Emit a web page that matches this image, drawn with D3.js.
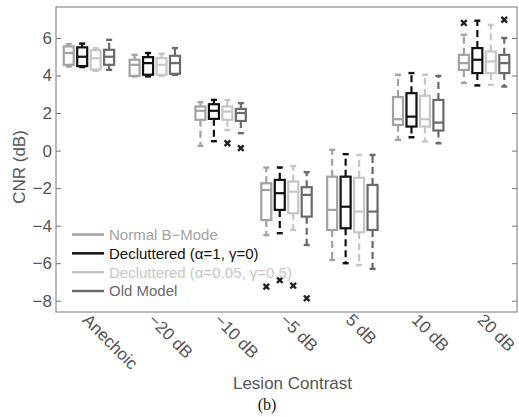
<!DOCTYPE html>
<html>
<head>
<meta charset="utf-8">
<script src="https://cdn.jsdelivr.net/npm/d3@7/dist/d3.min.js"></script>
<style>
  html, body { margin: 0; padding: 0; background: #fff; }
  svg { display: block; }
</style>
</head>
<body>
<svg id="chart" width="519" height="417"></svg>
<script>
// Lesion contrast categories along the x axis
const categories = ["Anechoic", "\u221220 dB", "\u221210 dB", "\u22125 dB", "5 dB", "10 dB", "20 dB"];
const yTicks = [-8, -6, -4, -2, 0, 2, 4, 6];

// Method names shown in the legend
const seriesNames = ["Normal B\u2212Mode", "Decluttered (\u03b1=1, \u03b3=0)", "Decluttered (\u03b1=0.05, \u03b3=0.5)", "Old Model"];

// Box statistics per category: [lower whisker, Q1, median, Q3, upper whisker] in dB
const normalBMode = [
  [4.48, 4.57, 5.20, 5.55, 5.67],
  [3.95, 3.98, 4.57, 4.84, 5.10],
  [0.25, 1.64, 2.12, 2.35, 2.58],
  [-4.50, -3.70, -2.10, -1.74, -0.90],
  [-5.83, -4.23, -3.16, -1.39, 0.04],
  [0.57, 1.37, 1.67, 2.85, 4.04],
  [3.60, 4.30, 4.66, 5.10, 6.17]
];
const declutteredA1 = [
  [4.45, 4.50, 5.00, 5.50, 5.70],
  [3.95, 4.04, 4.66, 4.98, 5.20],
  [0.50, 1.69, 2.12, 2.47, 2.70],
  [-4.40, -3.16, -2.27, -1.56, -0.90],
  [-6.00, -4.14, -2.99, -1.39, -0.19],
  [0.71, 1.28, 1.81, 3.06, 4.13],
  [3.47, 4.13, 4.84, 5.46, 6.92]
];
const declutteredA005 = [
  [4.25, 4.32, 4.92, 5.35, 5.45],
  [3.98, 4.04, 4.57, 4.93, 5.16],
  [1.10, 1.64, 2.08, 2.35, 2.70],
  [-4.23, -3.34, -2.19, -1.65, -0.82],
  [-6.10, -4.35, -3.25, -1.45, -0.23],
  [0.48, 1.28, 1.67, 2.92, 4.04],
  [3.50, 4.13, 4.75, 5.28, 6.70]
];
const oldModel = [
  [4.30, 4.57, 5.00, 5.37, 5.90],
  [4.04, 4.09, 4.66, 5.05, 5.46],
  [0.93, 1.58, 2.00, 2.22, 2.53],
  [-5.03, -3.52, -2.36, -1.95, -1.15],
  [-6.30, -4.23, -3.25, -1.83, -0.23],
  [0.39, 1.07, 1.49, 2.70, 3.98],
  [3.41, 4.13, 4.66, 5.10, 6.00]
];

// Outliers: [category index, value]
const normalBModeOutliers = [[3, -7.25], [6, 6.80]];
const declutteredA1Outliers = [[3, -6.90]];
const declutteredA005Outliers = [[2, 0.39], [3, -7.20]];
const oldModelOutliers = [[2, 0.13], [3, -7.87], [6, 6.97]];

const seriesStats = [normalBMode, declutteredA1, declutteredA005, oldModel];
const seriesOutliers = [normalBModeOutliers, declutteredA1Outliers, declutteredA005Outliers, oldModelOutliers];
const seriesColors = ["#a2a2a2", "#111111", "#c6c6c6", "#6a6a6a"];

const svg = d3.select("#chart");
const plotLeft = 56, plotRight = 517, plotTop = 7, plotBottom = 312;

const x = d3.scaleLinear().domain([0.5, categories.length + 0.5]).range([plotLeft, plotRight]);
const y = d3.scaleLinear().domain([-8.6, 7.65]).range([plotBottom, plotTop]);
const seriesOffset = d3.scaleLinear().domain([0, 3]).range([-20.2, 20.2]);

const font = "'Liberation Sans', Arial, Helvetica, sans-serif";

// Y axis (left) with inward ticks
const yAxis = d3.axisLeft(y).tickValues(yTicks).tickSize(-5).tickPadding(4)
  .tickFormat(d3.format("d"));
const gy = svg.append("g").attr("transform", `translate(${plotLeft},0)`).call(yAxis);
gy.select(".domain").remove();
gy.selectAll(".tick line").attr("stroke", "#777");
gy.selectAll(".tick text").attr("fill", "#555").style("font-family", font).style("font-size", "17px");

// Y axis (right) ticks only
const gyr = svg.append("g").attr("transform", `translate(${plotRight},0)`)
  .call(d3.axisRight(y).tickValues(yTicks).tickSize(-5).tickFormat(""));
gyr.select(".domain").remove();
gyr.selectAll(".tick line").attr("stroke", "#777");

// X axis labels, rotated
const gx = svg.append("g").attr("transform", `translate(0,${plotBottom})`)
  .call(d3.axisBottom(x).tickValues(d3.range(1, categories.length + 1))
    .tickSize(0).tickFormat((d) => categories[d - 1]));
gx.select(".domain").remove();
gx.selectAll(".tick text")
  .attr("fill", "#555")
  .style("font-family", font).style("font-size", "17px")
  .attr("text-anchor", "start")
  .attr("dy", null).attr("y", 0)
  .attr("transform", "translate(-8,9) rotate(45)");

// Frame
svg.append("rect").attr("x", plotLeft).attr("y", plotTop)
  .attr("width", plotRight - plotLeft).attr("height", plotBottom - plotTop)
  .attr("fill", "none").attr("stroke", "#777").attr("stroke-width", 1);

// Boxes
const boxW = 10, capW = 6;
seriesStats.forEach((stats, si) => {
  const color = seriesColors[si];
  const g = svg.append("g");
  stats.forEach((s, ci) => {
    const cx = x(ci + 1) + seriesOffset(si);
    const [lo, q1, med, q3, hi] = s;
    // dashed whiskers
    g.append("line").attr("x1", cx).attr("x2", cx).attr("y1", y(q3)).attr("y2", y(hi))
      .attr("stroke", color).attr("stroke-width", 2.2).attr("stroke-dasharray", "7,4");
    g.append("line").attr("x1", cx).attr("x2", cx).attr("y1", y(q1)).attr("y2", y(lo))
      .attr("stroke", color).attr("stroke-width", 2.2).attr("stroke-dasharray", "7,4");
    // caps
    [lo, hi].forEach((v) => {
      g.append("line").attr("x1", cx - capW / 2).attr("x2", cx + capW / 2)
        .attr("y1", y(v)).attr("y2", y(v))
        .attr("stroke", color).attr("stroke-width", 2.4);
    });
    // box
    g.append("rect").attr("x", cx - boxW / 2).attr("y", y(q3))
      .attr("width", boxW).attr("height", y(q1) - y(q3))
      .attr("fill", "none").attr("stroke", color).attr("stroke-width", 2.2);
    // median
    g.append("line").attr("x1", cx - boxW / 2).attr("x2", cx + boxW / 2)
      .attr("y1", y(med)).attr("y2", y(med))
      .attr("stroke", color).attr("stroke-width", 2.2);
  });
});

// Outliers as crosses
seriesOutliers.forEach((outs, si) => {
  outs.forEach(([ci, v]) => {
    const cx = x(ci + 1) + seriesOffset(si), cy = y(v), r = 2.8;
    svg.append("path")
      .attr("d", `M${cx - r},${cy - r}L${cx + r},${cy + r}M${cx - r},${cy + r}L${cx + r},${cy - r}`)
      .attr("stroke", "#222").attr("stroke-width", 2.4).attr("fill", "none");
  });
});

// Legend
const legend = svg.append("g");
const legendY = d3.scaleLinear().domain([0, 3]).range([234.5, 291]);
seriesNames.forEach((name, i) => {
  const ly = legendY(i);
  legend.append("line").attr("x1", 72).attr("x2", 104).attr("y1", ly).attr("y2", ly)
    .attr("stroke", seriesColors[i]).attr("stroke-width", 2.5);
  legend.append("text").attr("x", 109).attr("y", ly).attr("dy", "0.36em")
    .attr("fill", seriesColors[i]).style("font-family", font).style("font-size", "15px")
    .text(name);
});

// Axis titles
svg.append("text").attr("x", (plotLeft + plotRight) / 2 + 6).attr("y", 389)
  .attr("text-anchor", "middle").attr("fill", "#555")
  .style("font-family", font).style("font-size", "17px").text("Lesion Contrast");
svg.append("text").attr("transform", "translate(25,167) rotate(-90)")
  .attr("text-anchor", "middle").attr("fill", "#555")
  .style("font-family", font).style("font-size", "17px").text("CNR (dB)");

// Panel label
svg.append("text").attr("x", 267).attr("y", 410)
  .attr("text-anchor", "middle").attr("fill", "#111")
  .style("font-family", "'Liberation Serif', 'Times New Roman', serif").style("font-size", "16px").text("(b)");
</script>
</body>
</html>
